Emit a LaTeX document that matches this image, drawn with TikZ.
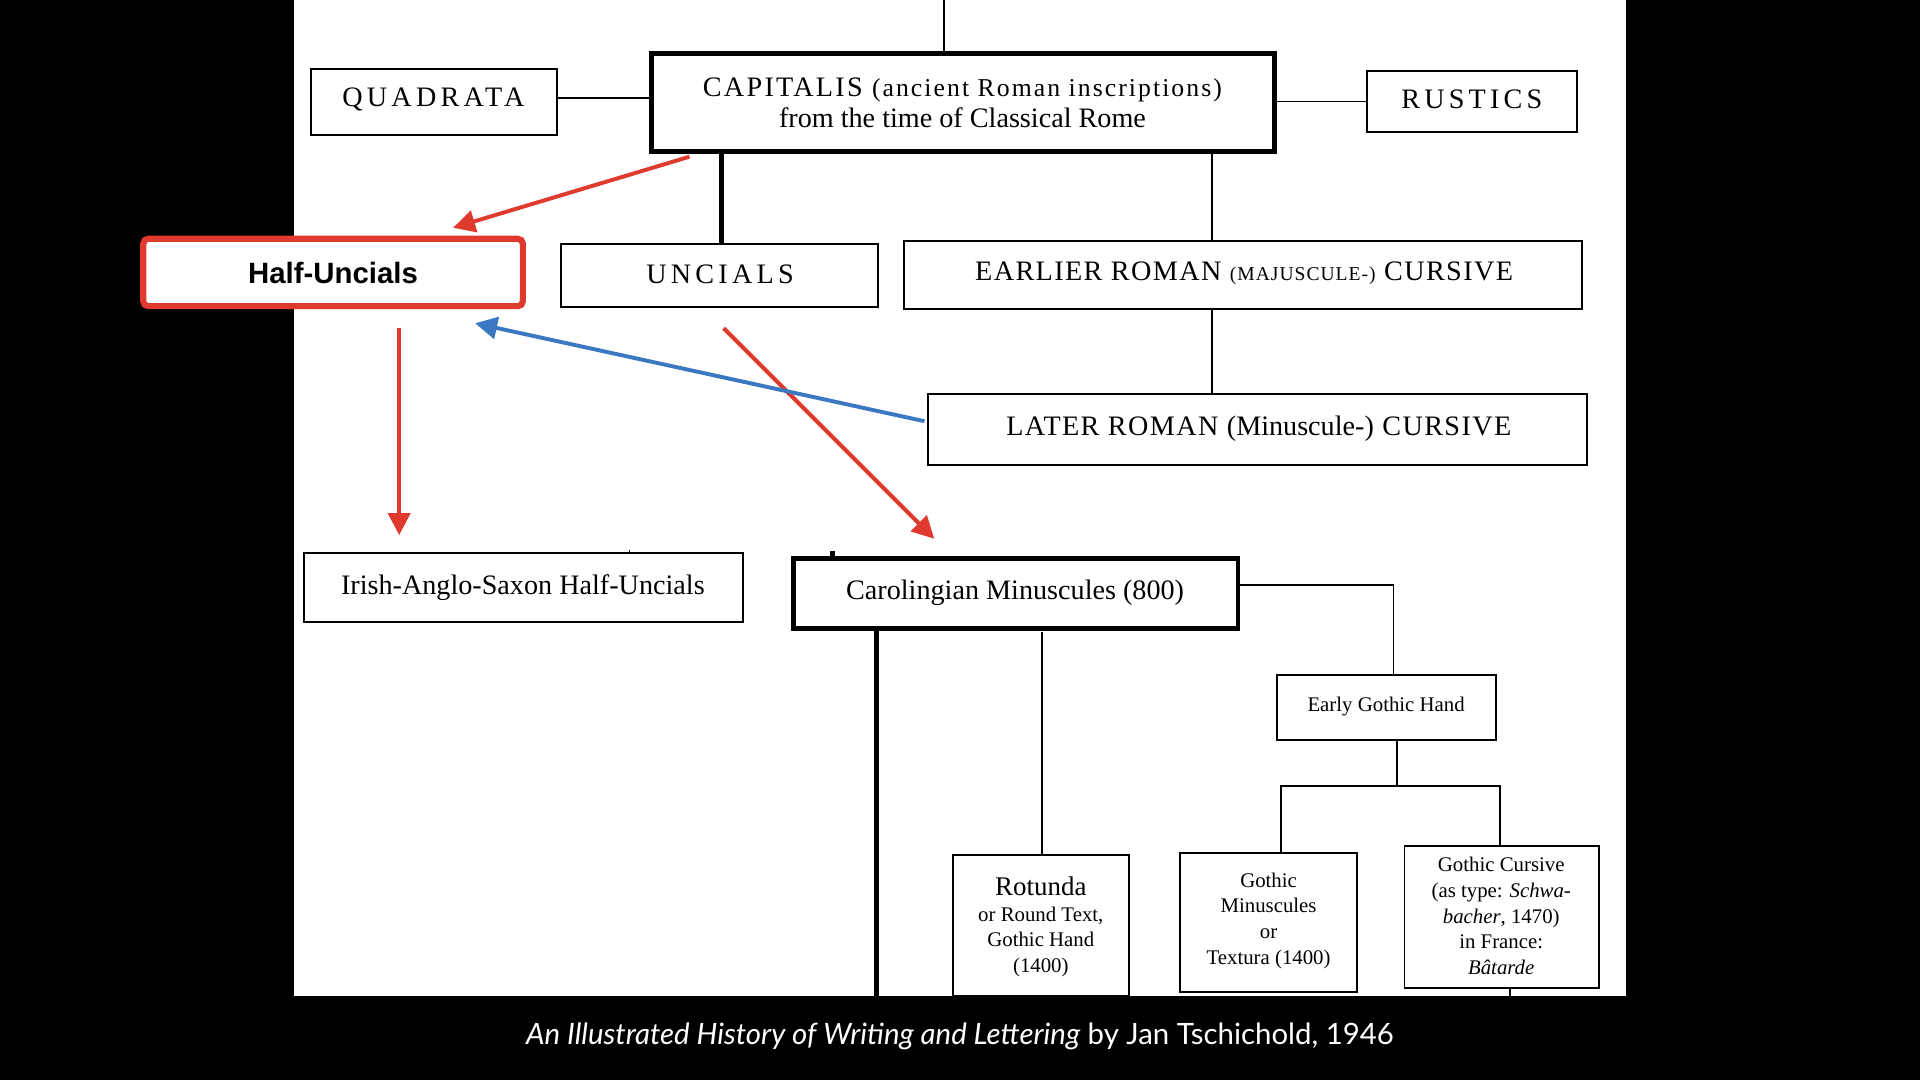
\documentclass[tikz,border=0pt]{standalone}
\usepackage{fontspec}
\setmainfont{Liberation Serif}
\newfontfamily\capsans{Liberation Sans}
\newfontfamily\capfont{Lato}
\usetikzlibrary{arrows.meta}
\definecolor{rd}{HTML}{E03A2F}
\definecolor{bl}{HTML}{3A78C2}
\begin{document}
\begin{tikzpicture}[x=0.5pt,y=-0.5pt,
  bx/.style={draw,line width=0.8pt,inner sep=0pt},
  tk/.style={draw,line width=2pt,inner sep=0pt},
  ln/.style={line width=0.7pt},
  tx/.style={align=center,font=\fontsize{11.5}{12.5}\selectfont},
  st/.style={align=center,font=\fontsize{8.5}{10.5}\selectfont},
  ar/.style={line width=1.6pt,-{Triangle[length=9pt,width=9pt]}}]
\fill[black] (0,0) rectangle (1568,882);
\fill[white] (240,0) rectangle (1328,813);
\useasboundingbox (0,0) rectangle (1568,882);
% boxes
\draw[tk] (532,44) rectangle (1041,124);
\node[tx] (cap) at (786,84) {\addfontfeature{LetterSpace=8}CAPITALIS \fontsize{10.5}{12.5}\selectfont(ancient Roman inscriptions)\\ from the time of Classical Rome};
\draw[bx] (254,56) rectangle (455,110);
\node[tx] (quad) at (354,81) {\addfontfeature{LetterSpace=15}QUADRATA};
\draw[bx] (1116,58) rectangle (1288,108);
\node[tx] (rus) at (1202,81) {\addfontfeature{LetterSpace=15}RUSTICS};
\draw[bx] (458,199) rectangle (717,251);
\node[tx] (unc) at (588,224) {\addfontfeature{LetterSpace=15}UNCIALS};
\draw[bx] (738,197) rectangle (1292,252);
\node[tx] (ear) at (1016,223) {\addfontfeature{LetterSpace=5}EARLIER ROMAN {\fontsize{8}{10}\selectfont(MAJUSCULE-)} CURSIVE};
\draw[bx] (758,322) rectangle (1296,380);
\node[tx] (lat) at (1028,350) {\addfontfeature{LetterSpace=5}LATER ROMAN {\addfontfeature{LetterSpace=0}(Minuscule-)} CURSIVE};
\draw[rd,fill=white,line width=2.5pt,rounded corners=2pt] (117,195) rectangle (427,250);
\node[font=\capsans\bfseries\fontsize{12}{14}\selectfont] (hu) at (272,223) {Half-Uncials};
\draw[bx] (248,452) rectangle (607,508);
\node[tx] (iri) at (427,480) {Irish-Anglo-Saxon Half-Uncials};
\draw[tk] (648,456) rectangle (1011,513);
\node[tx] (car) at (829,484) {Carolingian Minuscules (800)};
\draw[bx] (1043,551) rectangle (1222,604);
\node[st] (egh) at (1132,577) {Early Gothic Hand};
\draw[bx] (778,698) rectangle (922,813);
\node[st] (rot) at (850,757) {{\fontsize{11}{12}\selectfont Rotunda}\\or Round Text,\\Gothic Hand\\(1400)};
\draw[bx] (964,697) rectangle (1108,810);
\node[st] (gm) at (1036,752) {Gothic\\Minuscules\\or\\Textura (1400)};
\draw[bx] (1147,691) rectangle (1306,807);
\node[st] (gc) at (1226,748) {Gothic Cursive\\(as type: \textit{Schwa-}\\\textit{bacher}, 1470)\\in France:\\\textit{Bâtarde}};
% connectors
\draw[ln] (771,0) -- (771,44);
\draw[ln] (455,80) -- (532,80);
\draw[ln] (1041,83) -- (1116,83);
\draw[line width=2pt] (589,124) -- (589,199);
\draw[ln] (990,124) -- (990,197);
\draw[ln] (990,252) -- (990,322);
\draw[ln] (514,449) -- (514,452);
\draw[line width=2pt] (680,450) -- (680,456);
\draw[line width=2pt] (716,513) -- (716,813);
\draw[ln] (851,516) -- (851,698);
\draw[ln] (1011,478) -- (1138,478) -- (1138,551);
\draw[ln] (1141,604) -- (1141,642);
\draw[ln] (1046,697) -- (1046,642) -- (1225,642) -- (1225,691);
\draw[ln] (1233,807) -- (1233,813);
% arrows
\draw[ar,rd] (563,128) -- (370,186);
\draw[ar,rd] (326,268) -- (326,437);
\draw[ar,rd] (591,268) -- (763,440);
\draw[ar,bl] (755,344) -- (388,264);
\node[white,font=\capfont\fontsize{12}{14}\selectfont] (capt) at (784,846) {\textit{An Illustrated History of Writing and Lettering} by Jan Tschichold, 1946};
\end{tikzpicture}
\end{document}
